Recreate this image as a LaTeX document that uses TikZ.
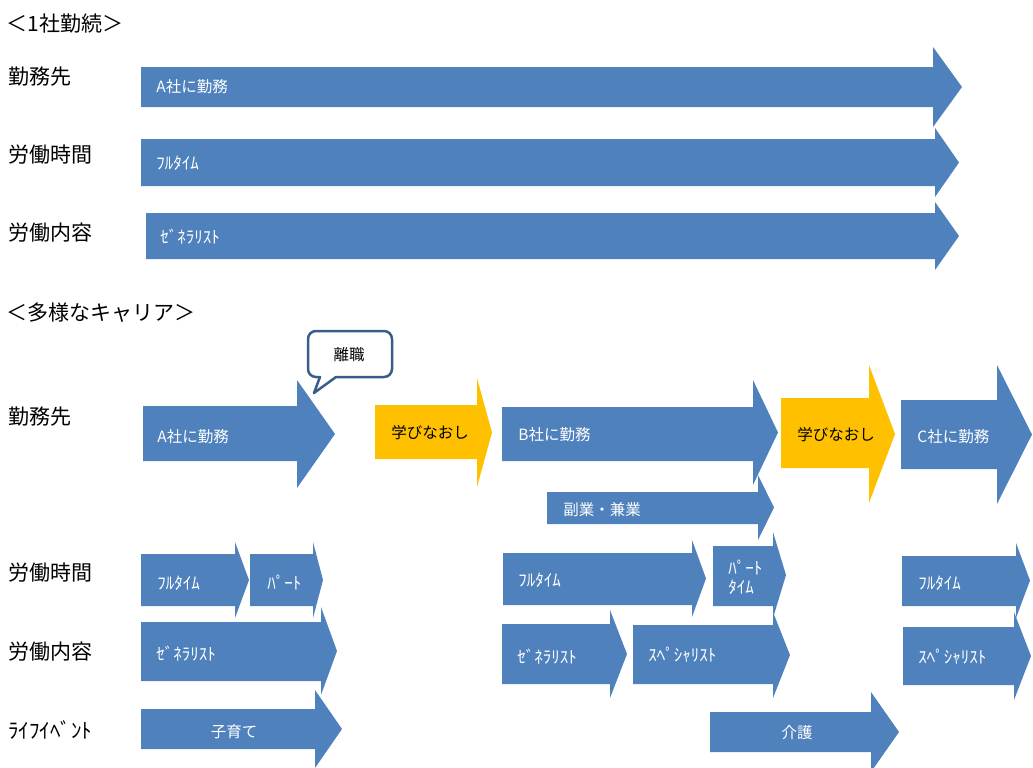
\documentclass[tikz,border=0pt]{standalone}
\usepackage{fontspec}
\setmainfont{Noto Sans CJK JP}
\usetikzlibrary{positioning}
\definecolor{barblue}{HTML}{4F81BD}
\definecolor{baryellow}{HTML}{FFC000}
\definecolor{bubbleline}{HTML}{385D8A}
% block arrow: style, left x, head base x, tip x, body top, body bottom, head top, head bottom
\newcommand{\barrow}[8]{\fill[#1] (#2,#5) -- (#3,#5) -- (#3,#7) -- (#4,{(#7+#8)/2}) -- (#3,#8) -- (#3,#6) -- (#2,#6) -- cycle;}

\begin{document}
\begin{tikzpicture}[x=0.5pt, y=-0.5pt,
		workbar/.style={fill=barblue},
		studybar/.style={fill=baryellow},
		bubble/.style={draw=bubbleline, line width=1.25pt, fill=white, line join=round},
		rowlab/.style={anchor=west, inner sep=0pt, font=\fontsize{10.5}{12}\selectfont},
		bartxt/.style={anchor=west, inner sep=0pt, text=white, font=\fontsize{7.75}{9.5}\selectfont},
		halftxt/.style={bartxt, font=\fontsize{8.5}{9.5}\selectfont},
		studytxt/.style={anchor=west, inner sep=0pt, text=black, font=\fontsize{7.75}{9.5}\selectfont}
		]
		
		\useasboundingbox (0,0) rectangle (1033,767);
		\clip (0,0) rectangle (1033,767);
		
		\node[rowlab] (title1) at (6,24) {＜1社勤続＞};
		\node[rowlab] (title2) at (6,313) {＜多様なキャリア＞};
		
		\foreach \lab/\y [count=\i] in {勤務先/77,労働時間/155,労働内容/233}
		\node[rowlab] (one\i) at (8,\y) {\lab};
		\foreach \lab/\y [count=\i] in {勤務先/417,労働時間/573,労働内容/652,ﾗｲﾌｲﾍﾞﾝﾄ/730}
		\node[rowlab] (many\i) at (8,\y) {\lab};
		
		
		
		\barrow{workbar}{141}{933}{962}{67}{107}{47}{127}
		\barrow{workbar}{141}{935}{959}{139}{186}{128}{197}
		\barrow{workbar}{146}{935}{959}{213}{259}{202}{270}
		\node[bartxt] (oa) at (156,87) {A社に勤務};
		\node[halftxt] (of) at (156,163) {ﾌﾙﾀｲﾑ};
		\node[halftxt] (og) at (160,237) {ｾﾞﾈﾗﾘｽﾄ};
		
		
		
		\barrow{workbar}{143}{297}{335}{406}{461}{380}{488}
		\barrow{studybar}{375}{477}{492}{405}{459}{378}{487}
		\barrow{workbar}{502}{753}{778}{407}{461}{380}{485}
		\barrow{studybar}{781}{869}{895}{398}{468}{365}{503}
		\barrow{workbar}{901}{997}{1032}{400}{469}{365}{504}
		\barrow{workbar}{547}{758}{774}{492}{524}{475}{540}
		\node[bartxt] (ma) at (157,437) {A社に勤務};
		\node[studytxt] (ms1) at (391,433) {学びなおし};
		\node[bartxt] (mb) at (518,435) {B社に勤務};
		\node[studytxt] (ms2) at (797,435) {学びなおし};
		\node[bartxt] (mc) at (917,437) {C社に勤務};
		\node[bartxt] (mside) at (563,510) {副業・兼業};
		
		\draw[bubble] (320,377) [rounded corners=4pt] -- (308,377) -- (308,331) -- (392,331) -- (392,377) [sharp corners] -- (336,377) -- (314,393) -- cycle;
		\node[inner sep=0pt, font=\fontsize{7.75}{9.5}\selectfont] (quit) at (349,355) {離職};
		
		
		
		\barrow{workbar}{141}{235}{249}{554}{606}{542}{618}
		\barrow{workbar}{250}{313}{323}{554}{606}{542}{618}
		\barrow{workbar}{503}{692}{706}{553}{605}{540}{617}
		\barrow{workbar}{713}{773}{786}{546}{606}{532}{618}
		\barrow{workbar}{902}{1016}{1030}{556}{606}{543}{618}
		\node[halftxt] (hfa) at (157,583) {ﾌﾙﾀｲﾑ};
		\node[halftxt] (hpa) at (267,583) {ﾊﾟｰﾄ};
		\node[halftxt] (hfb) at (518,580) {ﾌﾙﾀｲﾑ};
		\node[halftxt, align=left] (hpb) at (728,577) {ﾊﾟｰﾄ\\ﾀｲﾑ};
		\node[halftxt] (hfc) at (918,583) {ﾌﾙﾀｲﾑ};
		
		
		
		\barrow{workbar}{141}{321}{337}{622}{681}{607}{695}
		\barrow{workbar}{502}{610}{627}{624}{684}{610}{698}
		\barrow{workbar}{633}{773}{790}{625}{684}{612}{698}
		\barrow{workbar}{903}{1014}{1031}{627}{685}{612}{700}
		\node[halftxt] (cga) at (156,654) {ｾﾞﾈﾗﾘｽﾄ};
		\node[halftxt] (cgb) at (517,657) {ｾﾞﾈﾗﾘｽﾄ};
		\node[halftxt] (csb) at (648,655) {ｽﾍﾟｼｬﾘｽﾄ};
		\node[halftxt] (csc) at (918,657) {ｽﾍﾟｼｬﾘｽﾄ};
		
		
		
		\barrow{workbar}{141}{315}{342}{709}{749}{690}{768}
		\barrow{workbar}{710}{871}{899}{712}{752}{692}{772}
		\node[bartxt, anchor=center] (child) at (234,732) {子育て};
		\node[bartxt, anchor=center] (care) at (797,733) {介護};
		
		\end{tikzpicture}
\end{document}
